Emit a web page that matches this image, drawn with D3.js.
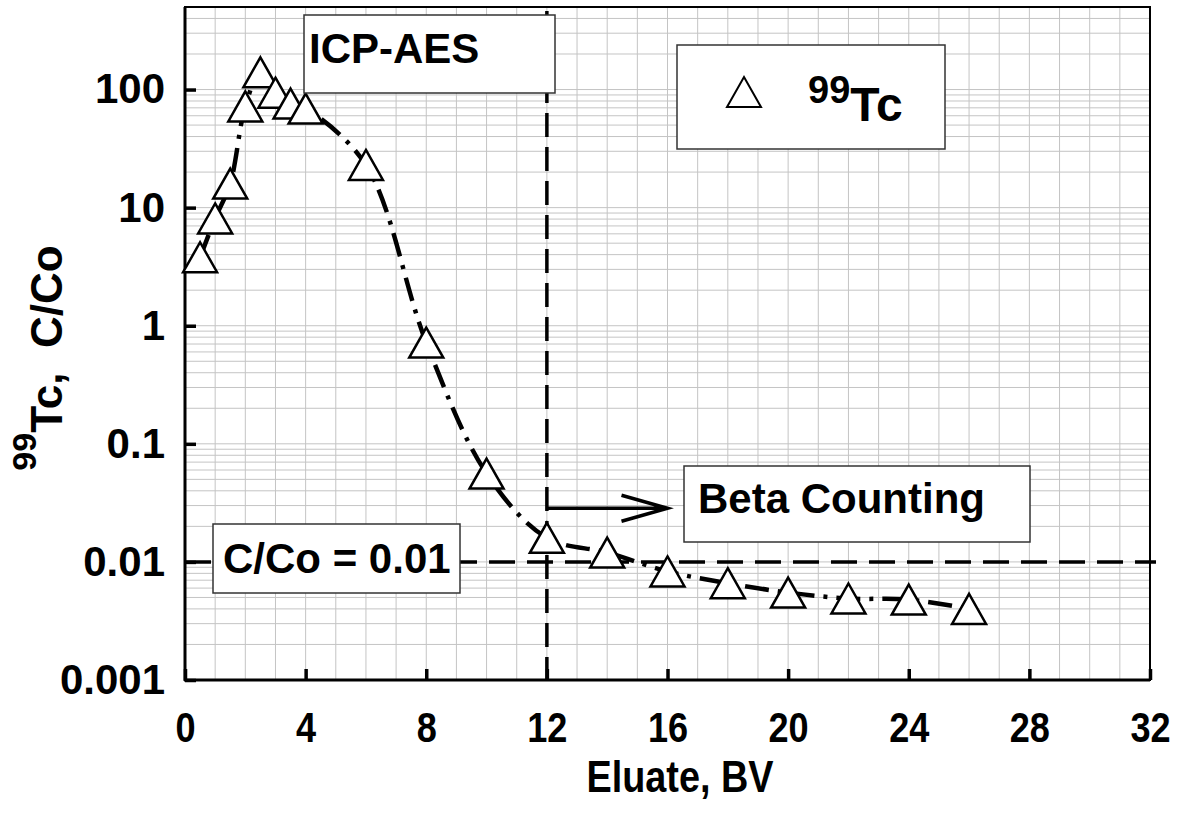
<!DOCTYPE html>
<html>
<head>
<meta charset="utf-8">
<script src="https://cdn.jsdelivr.net/npm/d3@7"></script>
<style>
  html, body { margin:0; padding:0; background:#fff; }
  text { font-family: "Liberation Sans", Arial, sans-serif; font-weight: bold; fill:#000; }
</style>
</head>
<body>
<svg id="chart" width="1178" height="828"></svg>
<script>
// eluate volume (BV) and 99Tc C/Co
var bv  = [0.5, 1, 1.5, 2, 2.5, 3, 3.5, 4, 6, 8, 10, 12, 14, 16, 18, 20, 22, 24, 26];
var cco = [3.8, 8.1, 16, 72, 140, 94, 76, 69, 23, 0.72, 0.056, 0.016, 0.012, 0.0083, 0.0066, 0.0055, 0.0049, 0.0048, 0.0040];

var xTicks = [0, 4, 8, 12, 16, 20, 24, 28, 32];
var yTicks = [0.001, 0.01, 0.1, 1, 10, 100];
var yTickLabels = ["0.001", "0.01", "0.1", "1", "10", "100"];

var limitLine = 0.01;   // C/Co = 0.01
var splitBV = 12;       // ICP-AES | Beta Counting
var arrowFrom = 12, arrowTo = 16, arrowLevel = 0.0285;

(function(){
var svg = d3.select('#chart');
var pL = 185, pR = 1150, pT = 7, pB = 680;

var x = d3.scaleLinear().domain([0, 32]).range([pL, pR]);
var y = d3.scaleLog().domain([0.001, 500]).range([pB, pT]);

var grid = svg.append('g');
// vertical grid every 1 BV
d3.range(1, 32).forEach(function(v){
  grid.append('line')
    .attr('x1', x(v)).attr('x2', x(v)).attr('y1', pT).attr('y2', pB)
    .attr('stroke', '#c4c4c4').attr('stroke-width', 1);
});
// horizontal grid 1..9 per decade
var hv = [];
[0.001, 0.01, 0.1, 1, 10, 100].forEach(function(d){
  for (var k = 1; k <= 9; k++) { if (k*d < 500) hv.push(k*d); }
});
hv.forEach(function(v){
  grid.append('line')
    .attr('x1', pL).attr('x2', pR).attr('y1', y(v)).attr('y2', y(v))
    .attr('stroke', '#c4c4c4').attr('stroke-width', 1);
});

// frame
svg.append('rect').attr('x', pL).attr('y', pT).attr('width', pR-pL).attr('height', pB-pT)
  .attr('fill', 'none').attr('stroke', '#000').attr('stroke-width', 2);
svg.append('line').attr('x1', pL).attr('x2', pL).attr('y1', pT).attr('y2', pB+1)
  .attr('stroke', '#000').attr('stroke-width', 3);
svg.append('line').attr('x1', pL-1).attr('x2', pR).attr('y1', pB).attr('y2', pB)
  .attr('stroke', '#000').attr('stroke-width', 3);

// axes (ticks inside)
var xAxis = svg.append('g').attr('transform', 'translate(0,' + pB + ')')
  .call(d3.axisBottom(x).tickValues(xTicks).tickSize(-11).tickPadding(0).tickFormat(d3.format('d')));
var yAxis = svg.append('g').attr('transform', 'translate(' + pL + ',0)')
  .call(d3.axisLeft(y).tickValues(yTicks).tickSize(-11).tickPadding(20)
    .tickFormat(function(d, i){ return yTickLabels[i]; }));
[xAxis, yAxis].forEach(function(a){
  a.select('.domain').remove();
  a.selectAll('.tick line').attr('stroke', '#000').attr('stroke-width', 3.5);
  a.selectAll('.tick text').style('font-size', '42px').style('font-family', '"Liberation Sans", Arial, sans-serif').style('font-weight', 'bold');
});
// x labels a little narrower, as in the original
xAxis.selectAll('.tick text').attr('y', null).attr('dy', null)
  .attr('transform', 'translate(0,62) scale(0.86,1)');

// reference lines
svg.append('line')
  .attr('x1', pL).attr('x2', pR + 6).attr('y1', y(limitLine)).attr('y2', y(limitLine))
  .attr('stroke', '#000').attr('stroke-width', 3.5).attr('stroke-dasharray', '26,12');
svg.append('line')
  .attr('x1', x(splitBV)).attr('x2', x(splitBV)).attr('y1', pT + 4).attr('y2', pB)
  .attr('stroke', '#000').attr('stroke-width', 3.5).attr('stroke-dasharray', '24,10');

// smoothed dash-dot curve
var pts = bv.map(function(d, i){ return [x(d), y(cco[i])]; });
svg.append('path')
  .attr('d', d3.line().curve(d3.curveCatmullRom.alpha(0.5))(pts))
  .attr('fill', 'none').attr('stroke', '#000').attr('stroke-width', 4.5)
  .attr('stroke-dasharray', '24,9,4,9');

// markers
var tri = 'M0,-15L17,15L-17,15Z';
svg.append('g').selectAll('path').data(pts).enter().append('path')
  .attr('d', tri)
  .attr('transform', function(d){ return 'translate(' + d[0] + ',' + d[1] + ')'; })
  .attr('fill', '#fff').attr('stroke', '#000').attr('stroke-width', 2.5);

// arrow
var ay = y(arrowLevel), ax0 = x(arrowFrom), ax1 = x(arrowTo);
svg.append('path')
  .attr('d', 'M' + ax0 + ',' + ay + 'L' + ax1 + ',' + ay +
             'M' + (ax1 - 46) + ',' + (ay - 13) + 'L' + ax1 + ',' + ay + 'L' + (ax1 - 46) + ',' + (ay + 13))
  .attr('fill', 'none').attr('stroke', '#000').attr('stroke-width', 3.5);

// label boxes
function box(x0, y0, w, h) {
  svg.append('rect').attr('x', x0).attr('y', y0).attr('width', w).attr('height', h)
    .attr('fill', '#fff').attr('stroke', '#333').attr('stroke-width', 1.5);
}
box(304, 15, 251, 78);
svg.append('text').attr('x', 309).attr('y', 63).style('font-size', '42px').text('ICP-AES');

box(684, 466, 346, 76);
svg.append('text').attr('x', 698).attr('y', 513).style('font-size', '42px').text('Beta Counting');

box(213, 524, 247, 69);
svg.append('text').attr('x', 223).attr('y', 573).style('font-size', '42px').text('C/Co = 0.01');

// legend
box(677, 45, 268, 104);
svg.append('path').attr('d', tri).attr('transform', 'translate(744,92)')
  .attr('fill', '#fff').attr('stroke', '#000').attr('stroke-width', 2);
var lg = svg.append('text').attr('x', 808).attr('y', 103);
lg.append('tspan').style('font-size', '38px').text('99');
lg.append('tspan').attr('dy', 18).style('font-size', '48px').text('Tc');

// axis titles
svg.append('text').attr('transform', 'translate(680,792) scale(0.86,1)')
  .attr('text-anchor', 'middle').style('font-size', '44px').text('Eluate, BV');

var yt = svg.append('text').attr('transform', 'translate(62,358) rotate(-90)')
  .attr('text-anchor', 'middle').attr('xml:space', 'preserve');
yt.append('tspan').attr('dy', -26).style('font-size', '34px').text('99');
yt.append('tspan').attr('dy', 26).style('font-size', '44px').text('Tc,  C/Co');
})();
</script>
</body>
</html>
